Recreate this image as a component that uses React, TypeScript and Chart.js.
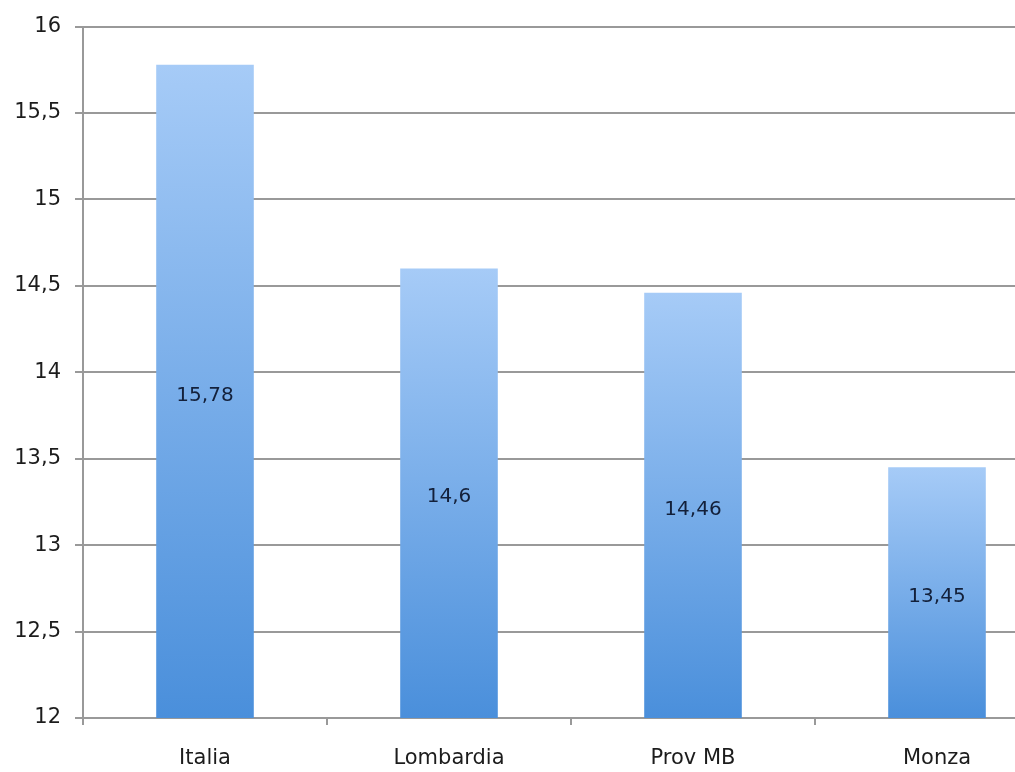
import React, { useEffect, useRef } from "react";
import { Chart, registerables } from "chart.js";

Chart.register(...registerables);

const categories: string[] = ["Italia", "Lombardia", "Prov MB", "Monza"];
const values: number[] = [15.78, 14.6, 14.46, 13.45];
const yMin = 12;
const yMax = 16;
const yStep = 0.5;

const fmt = (v: number) => String(v).replace(".", ",");

const FONT = "'DejaVu Sans', sans-serif";
const GRID = "#999999";

// Writes each bar's value, centred inside the bar.
const valueLabels = {
  id: "valueLabels",
  afterDatasetsDraw(chart: any) {
    const ctx: CanvasRenderingContext2D = chart.ctx;
    const xs = chart.scales.x;
    const ys = chart.scales.y;
    ctx.save();
    ctx.font = "20px 'DejaVu Sans', sans-serif";
    ctx.fillStyle = "#13203a";
    ctx.textAlign = "center";
    ctx.textBaseline = "middle";
    values.forEach((v, i) => {
      const x = xs.getPixelForValue(i);
      const top = ys.getPixelForValue(v);
      const base = ys.getPixelForValue(yMin);
      ctx.fillText(fmt(v), x, (top + base) / 2 + 4);
    });
    ctx.restore();
  },
};

export default function App() {
  const ref = useRef<HTMLCanvasElement | null>(null);

  useEffect(() => {
    document.body.style.overflow = "hidden";
    const canvas = ref.current;
    if (!canvas) return;
    const chart = new Chart(canvas, {
      type: "bar",
      data: {
        labels: categories,
        datasets: [
          {
            data: values,
            barPercentage: 0.4,
            categoryPercentage: 1,
            borderWidth: 0,
            backgroundColor: (c: any) => {
              const ch = c.chart;
              if (!ch.chartArea || c.type !== "data") return "#76aee9";
              const ys = ch.scales.y;
              const top = ys.getPixelForValue(c.raw);
              const bottom = ys.getPixelForValue(yMin);
              const g = ch.ctx.createLinearGradient(0, top, 0, bottom);
              g.addColorStop(0, "#a6cbf7");
              g.addColorStop(1, "#4a8fdb");
              return g;
            },
          },
        ],
      },
      options: {
        responsive: false,
        animation: false,
        layout: { padding: { top: 26, right: 0, bottom: 0, left: 0 } },
        plugins: {
          legend: { display: false },
          title: { display: false },
          tooltip: { enabled: false },
        },
        scales: {
          x: {
            grid: {
              offset: true,
              drawOnChartArea: false,
              drawTicks: true,
              tickLength: 7,
              color: GRID,
              lineWidth: 2,
            },
            border: { color: GRID, width: 2 },
            ticks: {
              color: "#1c1c1c",
              font: { family: FONT, size: 21 },
              padding: 21,
              maxRotation: 0,
            },
            afterFit: (s: any) => {
              s.height = 54;
            },
          },
          y: {
            min: yMin,
            max: yMax,
            grid: { color: GRID, lineWidth: 2, tickLength: 8 },
            border: { color: GRID, width: 2 },
            ticks: {
              stepSize: yStep,
              color: "#1c1c1c",
              font: { family: FONT, size: 21 },
              padding: 14,
              callback: (v: any) => fmt(Number(v)),
            },
            afterFit: (s: any) => {
              s.width = 83;
            },
          },
        },
      },
      plugins: [valueLabels],
    });
    return () => chart.destroy();
  }, []);

  return (
    <div style={{ position: "fixed", left: 0, top: 0, width: 1059, height: 772, background: "#fff" }}>
      <canvas ref={ref} width={1059} height={772} />
    </div>
  );
}
